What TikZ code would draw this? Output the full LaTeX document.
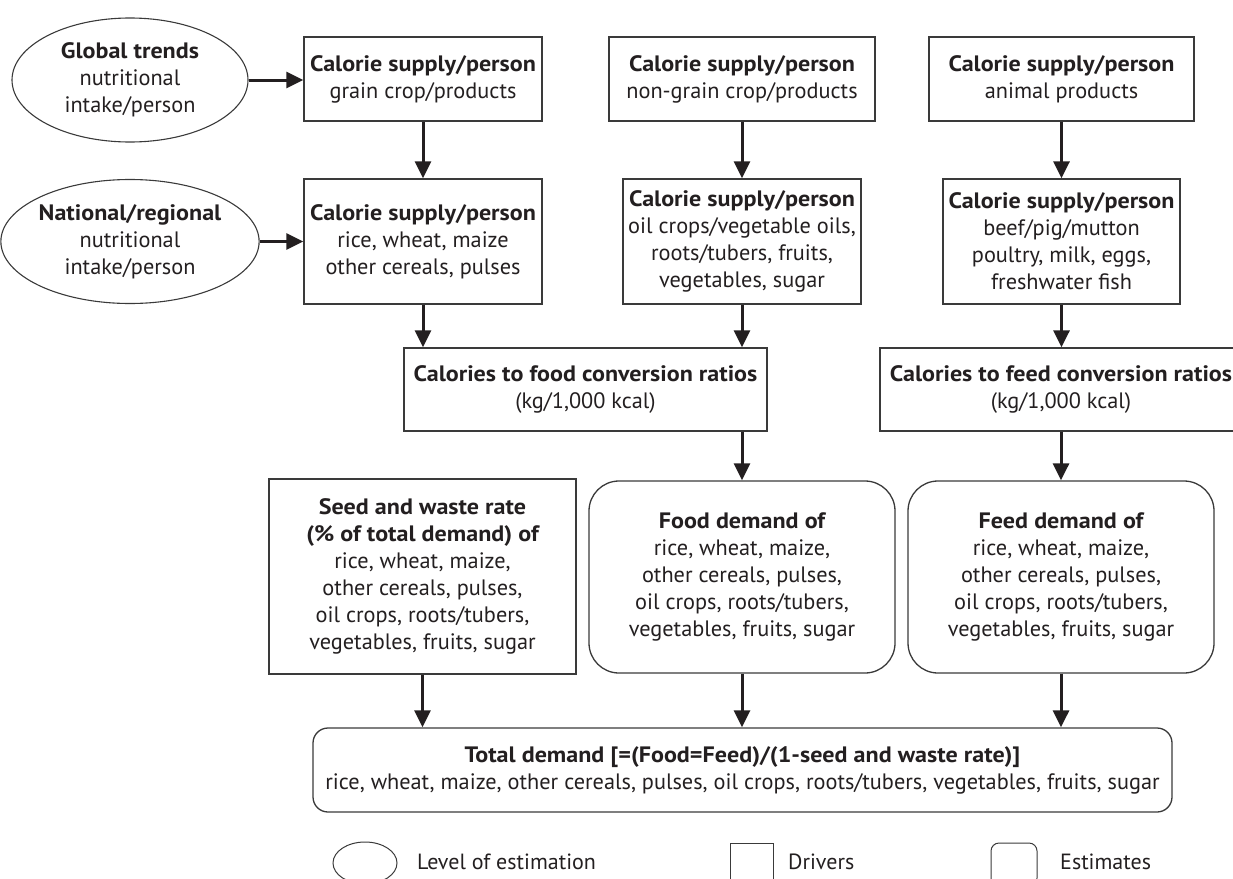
\documentclass[tikz,border=0pt]{standalone}
\usepackage{fontspec}
\setmainfont{PT Sans}[BoldFeatures={FakeStretch=1.08}]
\usetikzlibrary{arrows.meta,shapes.geometric}
\definecolor{ink}{HTML}{231F20}
\definecolor{edge}{HTML}{3A3A3A}
\begin{document}
\begin{tikzpicture}[x=1pt,y=-1pt,
  every node/.style={text=ink,font=\fontsize{22.3}{27}\selectfont,align=center,inner sep=0pt},
  driver/.style={draw=edge,line width=1.3pt,rectangle},
  estim/.style={draw=edge,line width=1.3pt,rectangle,rounded corners=30pt},
  level/.style={draw=edge,line width=1.1pt,ellipse},
  arr/.style={draw=ink,line width=3pt,-{Triangle[width=16pt,length=17pt]}},
  legtext/.style={anchor=west,font=\fontsize{22}{25}\selectfont}
]
\useasboundingbox (0,0) rectangle (1233,878);

% ellipses
\node[level,minimum width=236pt,minimum height=124pt] (e1) at (130,80)
  {{\bfseries Global trends}\\nutritional\\intake/person};
\node[level,minimum width=236pt,minimum height=124pt] (e2) at (130,241.5)
  {{\bfseries National/regional}\\nutritional\\intake/person};

% top row
\node[driver,minimum width=238pt,minimum height=84pt] (b1) at (423,79)
  {{\bfseries Calorie supply/person}\\grain crop/products};
\node[driver,minimum width=266pt,minimum height=84pt] (b3) at (742,79)
  {{\bfseries Calorie supply/person}\\non-grain crop/products};
\node[driver,minimum width=265pt,minimum height=84pt] (b5) at (1061.5,79)
  {{\bfseries Calorie supply/person}\\animal products};

% second row
\node[driver,minimum width=238pt,minimum height=125pt] (b2) at (423,241.5)
  {{\bfseries Calorie supply/person}\\rice, wheat, maize\\other cereals, pulses};
\node[driver,minimum width=238pt,minimum height=125pt] (b4) at (742,241.5)
  {{\bfseries Calorie supply/person}\\oil crops/vegetable oils,\\roots/tubers, fruits,\\vegetables, sugar};
\node[driver,minimum width=237pt,minimum height=125pt] (b6) at (1061.5,241.5)
  {{\bfseries Calorie supply/person}\\beef/pig/mutton\\poultry, milk, eggs,\\freshwater fish};

% conversion ratios
\node[driver,minimum width=363pt,minimum height=83pt] (fc) at (585.5,389.5)
  {{\bfseries Calories to food conversion ratios}\\(kg/1,000 kcal)};
\node[driver,minimum width=362pt,minimum height=83pt] (fd) at (1061,389.5)
  {{\bfseries Calories to feed conversion ratios}\\(kg/1,000 kcal)};

% third row
\node[driver,minimum width=307pt,minimum height=195pt] (sw) at (422.5,576.5)
  {{\bfseries Seed and waste rate}\\{\bfseries (\% of total demand) of}\\rice, wheat, maize,\\other cereals, pulses,\\oil crops, roots/tubers,\\vegetables, fruits, sugar};
\node[estim,minimum width=306pt,minimum height=192pt] (fdem) at (742,577)
  {{\bfseries Food demand of}\\rice, wheat, maize,\\other cereals, pulses,\\oil crops, roots/tubers,\\vegetables, fruits, sugar};
\node[estim,minimum width=306pt,minimum height=192pt] (feedem) at (1061,577)
  {{\bfseries Feed demand of}\\rice, wheat, maize,\\other cereals, pulses,\\oil crops, roots/tubers,\\vegetables, fruits, sugar};

% total
\node[driver,rounded corners=15pt,minimum width=859pt,minimum height=84pt] (tot) at (742.5,770)
  {{\bfseries Total demand [=(Food=Feed)/(1-seed and waste rate)]}\\rice, wheat, maize, other cereals, pulses, oil crops, roots/tubers, vegetables, fruits, sugar};

% arrows
\draw[arr] (e1.east) -- (b1.west |- e1.east);
\draw[arr] (e2.east) -- (b2.west |- e2.east);
\draw[arr] (b1.south) -- (b2.north);
\draw[arr] (b3.south) -- (b4.north);
\draw[arr] (b5.south) -- (b6.north);
\draw[arr] (b2.south) -- (b2.south |- fc.north);
\draw[arr] (b4.south) -- (b4.south |- fc.north);
\draw[arr] (b6.south) -- (b6.south |- fd.north);
\draw[arr] (fdem.north |- fc.south) -- (fdem.north);
\draw[arr] (feedem.north |- fd.south) -- (feedem.north);
\draw[arr] (sw.south) -- (sw.south |- tot.north);
\draw[arr] (fdem.south) -- (fdem.south |- tot.north);
\draw[arr] (feedem.south) -- (feedem.south |- tot.north);

% legend
\node[level,line width=1pt,minimum width=64pt,minimum height=42pt] (lg1) at (365,863) {};
\node[legtext] (lt1) at (417,862) {Level of estimation};
\node[driver,line width=1pt,minimum width=43pt,minimum height=43pt] (lg2) at (751.5,864.5) {};
\node[legtext] (lt2) at (788,862) {Drivers};
\node[driver,line width=1pt,rounded corners=8pt,minimum width=46pt,minimum height=43pt] (lg3) at (1014,864.5) {};
\node[legtext] (lt3) at (1060,862) {Estimates};
\end{tikzpicture}
\end{document}
